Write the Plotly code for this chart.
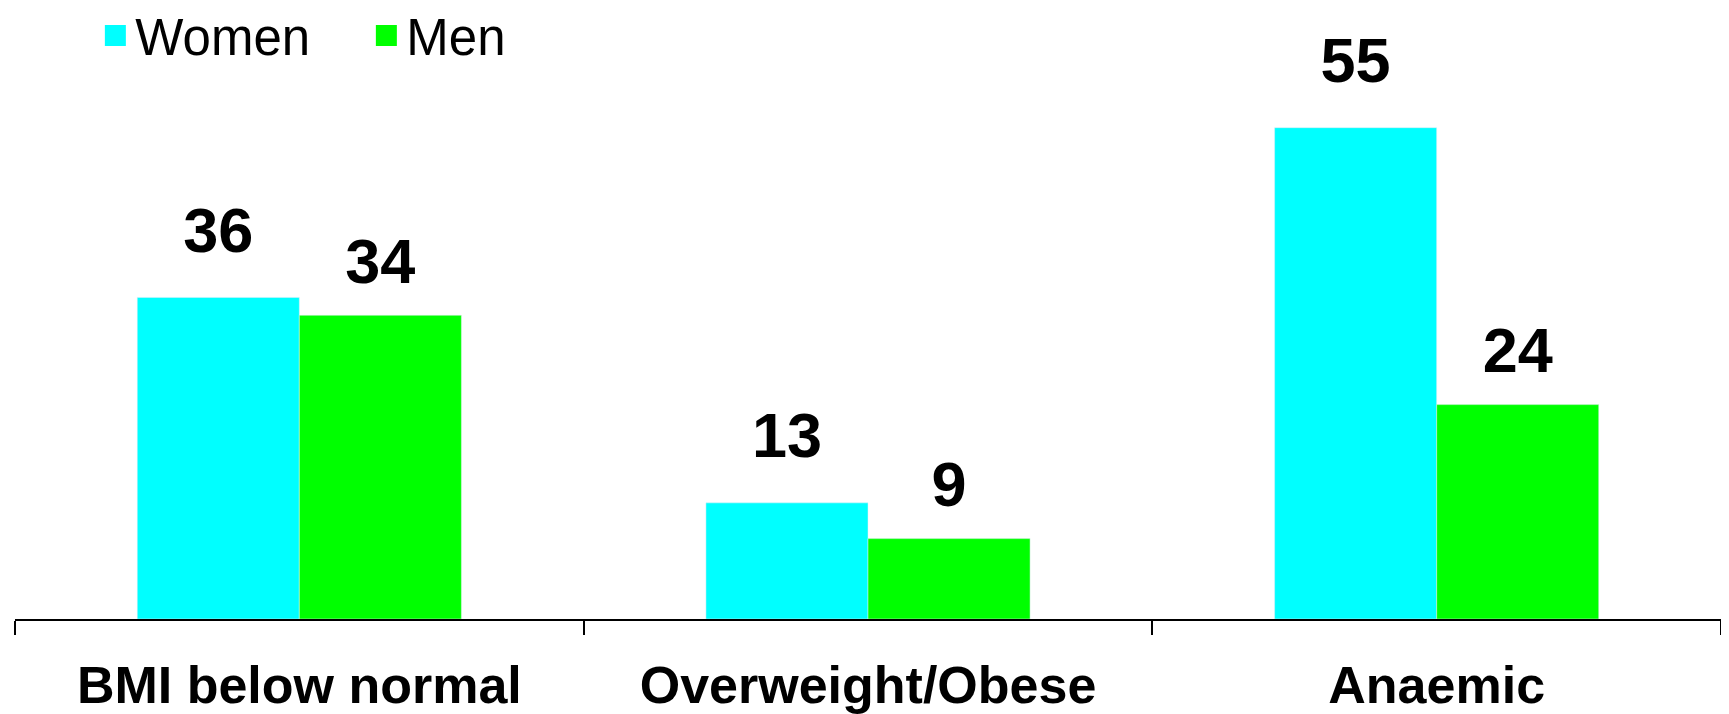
import plotly.graph_objects as go

categories = ["BMI below normal", "Overweight/Obese", "Anaemic"]
women = [36, 13, 55]
men = [34, 9, 24]
series_names = ["Women", "Men"]
colors = ["#00FFFF", "#00FF00"]
label_gap = [46, 25]

fig = go.Figure()
for name, vals, col in zip(series_names, [women, men], colors):
    fig.add_trace(go.Bar(x=categories, y=vals, name=name, marker_color=col,
                         offsetgroup=name, showlegend=False, hoverinfo="skip"))
for name, vals, gap in zip(series_names, [women, men], label_gap):
    fig.add_trace(go.Scatter(x=categories, y=vals, mode="markers+text", text=[str(v) for v in vals],
                             textposition="top center", offsetgroup=name, showlegend=False,
                             marker=dict(size=gap, opacity=0),
                             textfont=dict(family="Liberation Sans, Arial", size=63, color="black", weight="bold"),
                             cliponaxis=False, hoverinfo="skip"))
for name, col in zip(series_names, colors):
    fig.add_trace(go.Scatter(x=[None], y=[None], mode="markers", name=name, offsetgroup=name,
                             marker=dict(symbol="square", size=16, color=col, line=dict(color=col, width=5))))

fig.update_layout(
    width=1713, height=706,
    margin=dict(l=7, r=0, t=75, b=95, autoexpand=False),
    paper_bgcolor="white", plot_bgcolor="white",
    barmode="group", bargap=0.43, bargroupgap=0,
    scattermode="group", scattergap=0.43,
    legend=dict(orientation="h", x=0.051, y=1.088, xref="container", yref="paper",
                xanchor="left", yanchor="middle", itemsizing="trace",
                font=dict(family="Liberation Sans, Arial", size=51, color="black"),
                traceorder="normal", tracegroupgap=0, entrywidth=226, entrywidthmode="pixels"),
    xaxis=dict(showline=True, linecolor="black", linewidth=2, ticks="outside", tickson="boundaries",
               ticklen=14, tickwidth=1.5, tickcolor="black", showgrid=False, tickangle=0, automargin=False,
               tickfont=dict(family="Liberation Sans, Arial", size=52, color="black", weight="bold"),
               ticklabelstandoff=20),
    yaxis=dict(range=[0, 60], visible=False, showgrid=False, zeroline=False),
)
fig.write_html("out.html")
